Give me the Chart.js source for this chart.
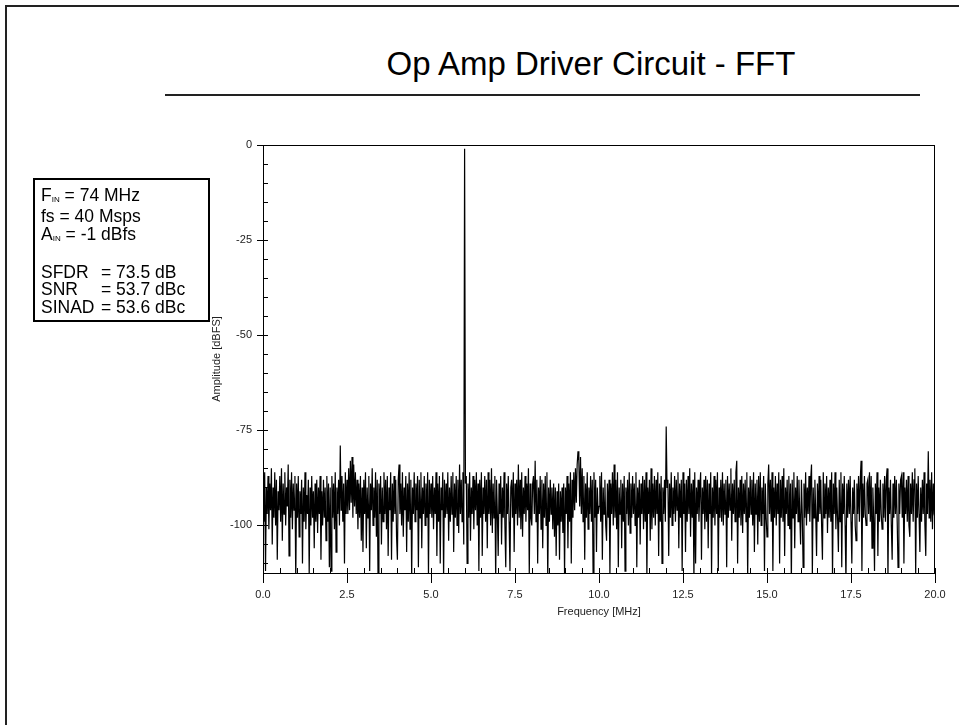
<!DOCTYPE html>
<html>
<head>
<meta charset="utf-8">
<script src="https://cdn.jsdelivr.net/npm/chart.js@4/dist/chart.umd.min.js"></script>
<style>
    body { margin: 0; width: 959px; height: 725px; overflow: hidden; background: #fff; position: relative; font-family: "Liberation Sans", Arial, sans-serif; }
    #frame { position: absolute; left: 5px; top: 5px; width: 1000px; height: 1000px; border: 2px solid #222; }
    #title { position: absolute; left: 291px; width: 600px; top: 44px; text-align: center; font-size: 33px; line-height: 40px; color: #000; }
    #rule { position: absolute; left: 165px; top: 94px; width: 755px; border-top: 2px solid #222; }
    #info { position: absolute; left: 33px; top: 178px; width: 177px; height: 144px; box-sizing: border-box; border: 2px solid #000; padding: 7px 0 0 6px; font-size: 17.5px; line-height: 17.3px; color: #000; will-change: transform; }
    #info .lbl { display: inline-block; width: 60px; }
    #info sub { font-size: 8px; vertical-align: -1px; color: #000; }
    #chart { position: absolute; left: 0; top: 0; }
</style>
</head>
<body>
<div id="frame"></div>
<div id="title">Op Amp Driver Circuit - FFT</div>
<div id="rule"></div>
<div id="info">
    F<sub>IN</sub> = 74 MHz<br>
    fs = 40 Msps<br>
    A<sub>IN</sub> = -1 dBfs<br>
    <br>
    <span class="lbl">SFDR</span>= 73.5 dB<br>
    <span class="lbl">SNR</span>= 53.7 dBc<br>
    <span class="lbl">SINAD</span>= 53.6 dBc
</div>
<canvas id="chart" width="959" height="725"></canvas>
<script>
// FFT bins, 0.025 MHz apart, 0 .. 20 MHz
var binMHz = 0.025;
var xTickLabels = ['0.0', '2.5', '5.0', '7.5', '10.0', '12.5', '15.0', '17.5', '20.0'];
var yTickLabels = ['0', '-25', '-50', '-75', '-100'];

// amplitude in dBFS, one row per MHz
var amplitudeDb = [
    -88,-99,-86,-112,-90,-97,-87,-101,-89,-96,-85,-105,-90,-98,-86,-100,-88,-109,-91,-96,-87,-99,-85,-104,-89,-97,-86,-100,-90,-95,-84,-108,-88,-98,-86,-101,-89,-96,-87,-115,
    -89,-98,-87,-103,-91,-97,-88,-110,-90,-99,-86,-101,-92,-97,-88,-113,-90,-100,-87,-98,-91,-106,-89,-99,-88,-102,-90,-97,-87,-109,-91,-100,-88,-98,-90,-104,-87,-99,-89,-111,
    -90,-112,-87,-98,-89,-101,-86,-107,-90,-97,-88,-100,-79,-96,-87,-99,-89,-110,-86,-97,-88,-97,-85,-96,-83,-94,-82,-98,-84,-95,-86,-97,-88,-101,-89,-98,-87,-104,-90,-107,
    -88,-97,-86,-106,-90,-98,-87,-112,-89,-96,-85,-100,-90,-98,-86,-103,-88,-115,-89,-97,-87,-105,-90,-99,-86,-97,-88,-101,-87,-108,-90,-96,-86,-109,-89,-99,-87,-97,-88,-103,
    -109,-88,-84,-97,-89,-100,-86,-103,-90,-96,-87,-107,-89,-99,-86,-101,-88,-114,-90,-97,-86,-99,-89,-96,-87,-111,-88,-98,-86,-106,-90,-97,-87,-100,-89,-98,-86,-113,-88,-97,
    -89,-98,-87,-101,-90,-97,-86,-108,-89,-99,-87,-110,-90,-96,-86,-114,-88,-98,-89,-97,-86,-104,-90,-99,-87,-97,-86,-107,-89,-98,-87,-100,-88,-102,-84,-97,-88,-99,-86,-105,
    -1,-89,-87,-110,-89,-98,-86,-104,-90,-97,-87,-101,-88,-96,-86,-100,-89,-112,-88,-98,-86,-108,-90,-97,-87,-99,-88,-106,-86,-97,-88,-100,-85,-102,-89,-98,-87,-115,-88,-97,
    -108,-89,-97,-87,-105,-90,-98,-86,-100,-111,-89,-97,-87,-99,-112,-90,-88,-98,-86,-107,-89,-97,-88,-100,-84,-98,-88,-101,-86,-103,-90,-97,-87,-99,-89,-96,-85,-113,-89,-98,
    -100,-89,-87,-97,-83,-99,-88,-110,-90,-97,-87,-101,-88,-106,-89,-98,-87,-100,-86,-115,-90,-99,-88,-97,-90,-101,-89,-103,-90,-108,-91,-100,-89,-109,-91,-99,-90,-102,-89,-113,
    -90,-97,-87,-106,-89,-99,-86,-110,-88,-98,-86,-96,-85,-94,-84,-80.5,-83,-95,-82,-97,-85,-99,-87,-109,-89,-98,-86,-101,-90,-97,-87,-99,-88,-114,-86,-98,-88,-107,-90,-97,
    -95,-87,-99,-86,-109,-90,-97,-88,-100,-104,-89,-98,-88,-113,-89,-97,-86,-100,-84,-98,-88,-101,-86,-111,-90,-97,-88,-106,-89,-99,-87,-112,-90,-97,-88,-100,-86,-102,-89,-98,
    -87,-97,-89,-100,-86,-111,-90,-98,-88,-105,-89,-97,-87,-101,-88,-99,-86,-114,-90,-97,-88,-104,-85,-101,-89,-98,-87,-100,-88,-97,-86,-108,-89,-99,-87,-110,-90,-97,-88,-99,
    -74,-90,-88,-108,-89,-98,-86,-100,-90,-97,-87,-99,-88,-96,-86,-106,-89,-98,-88,-112,-86,-97,-89,-107,-88,-99,-87,-97,-85,-103,-89,-98,-88,-115,-86,-110,-90,-97,-88,-99,
    -91,-86,-109,-90,-97,-88,-101,-87,-99,-88,-106,-89,-97,-86,-113,-90,-98,-87,-100,-88,-97,-86,-112,-90,-98,-88,-99,-86,-100,-89,-97,-88,-111,-87,-98,-89,-96,-85,-104,-89,
    -97,-88,-99,-86,-83,-110,-90,-98,-88,-100,-87,-102,-89,-97,-88,-99,-86,-114,-90,-98,-87,-97,-88,-100,-86,-107,-89,-97,-88,-105,-87,-99,-86,-100,-90,-97,-87,-112,-89,-98,
    -103,-89,-84,-97,-88,-99,-86,-112,-90,-98,-87,-100,-89,-97,-86,-110,-88,-98,-87,-99,-85,-108,-90,-97,-88,-100,-87,-101,-89,-115,-88,-98,-86,-106,-90,-97,-87,-99,-88,-97,
    -105,-88,-97,-111,-89,-98,-86,-100,-90,-97,-87,-99,-88,-84,-113,-90,-98,-88,-97,-108,-89,-99,-87,-97,-88,-100,-109,-86,-98,-89,-97,-87,-102,-90,-98,-88,-99,-86,-114,-89,
    -97,-86,-101,-90,-98,-107,-88,-99,-86,-111,-89,-97,-87,-100,-115,-89,-98,-88,-97,-87,-99,-110,-90,-97,-88,-100,-104,-89,-97,-87,-99,-88,-83,-112,-89,-98,-87,-97,-100,-89,
    -88,-97,-86,-99,-87,-106,-90,-98,-112,-89,-97,-86,-108,-90,-99,-88,-97,-101,-89,-98,-87,-99,-88,-85,-114,-90,-97,-88,-100,-109,-89,-98,-87,-97,-88,-99,-111,-89,-97,-88,
    -87,-98,-86,-110,-90,-97,-88,-99,-87,-100,-103,-89,-97,-86,-99,-88,-85,-113,-89,-98,-87,-97,-107,-90,-99,-88,-97,-86,-100,-108,-89,-97,-80.5,-98,-88,-99,-86,-101,-89,-97,
    -98
];

var points = amplitudeDb.map(function (v, i) { return {x: i * binMHz, y: v}; });
var tickFont = {family: "'Liberation Sans Narrow', 'Liberation Sans', Arial, sans-serif", size: 11};

// plot box + inward minor ticks
var frameTicks = {
    id: 'frameTicks',
    afterDraw: function (chart) {
        var ctx = chart.ctx, a = chart.chartArea;
        var xs = chart.scales.x, ys = chart.scales.y;
        ctx.save();
        ctx.strokeStyle = '#000';
        ctx.lineWidth = 1;
        ctx.beginPath();
        ctx.moveTo(a.left, a.top + 0.5); ctx.lineTo(a.right, a.top + 0.5);
        ctx.moveTo(a.right - 0.5, a.top); ctx.lineTo(a.right - 0.5, a.bottom);
        for (var v = -110; v <= 0; v += 5) {
            var y = Math.round(ys.getPixelForValue(v)) + 0.5;
            ctx.moveTo(a.left, y); ctx.lineTo(a.left + 5, y);
        }
        for (var f = 0; f <= 20; f += 0.5) {
            var x = Math.round(xs.getPixelForValue(f)) + 0.5;
            ctx.moveTo(x, a.bottom); ctx.lineTo(x, a.bottom - 5);
        }
        ctx.stroke();
        ctx.restore();
    }
};

var config = {
    type: 'line',
    data: {
        datasets: [{
            data: points,
            borderColor: '#000',
            borderWidth: 1.2,
            pointRadius: 0,
            fill: false,
            tension: 0
        }]
    },
    options: {
        responsive: false,
        animation: false,
        devicePixelRatio: 1,
        parsing: false,
        layout: {padding: {left: 210, top: 145, right: 24, bottom: 106}},
        plugins: {legend: {display: false}, tooltip: {enabled: false}},
        scales: {
            x: {
                type: 'linear', min: 0, max: 20,
                afterFit: function (s) { s.height = 46; },
                ticks: {
                    stepSize: 2.5, maxRotation: 0, autoSkip: false, padding: 5, color: '#222', font: tickFont,
                    callback: function (v, i) { return xTickLabels[i]; }
                },
                grid: {drawOnChartArea: false, drawTicks: true, tickLength: 10, color: '#000'},
                border: {display: true, color: '#000'},
                title: {display: true, text: 'Frequency [MHz]', color: '#222', font: tickFont, padding: {top: 2, bottom: 0}}
            },
            y: {
                type: 'linear', min: -112.5, max: 0,
                afterFit: function (s) { s.width = 53; },
                afterBuildTicks: function (s) {
                    s.ticks = s.ticks.filter(function (t) { return t.value % 25 === 0; });
                },
                ticks: {
                    stepSize: 25, padding: 5, color: '#222', font: tickFont,
                    callback: function (v) { return yTickLabels[Math.round(-v / 25)]; }
                },
                grid: {drawOnChartArea: false, drawTicks: true, tickLength: 6, color: '#000'},
                border: {display: true, color: '#000'},
                title: {display: true, text: 'Amplitude [dBFS]', color: '#222', font: tickFont, padding: 0}
            }
        }
    },
    plugins: [frameTicks]
};

var ctx = document.getElementById('chart').getContext('2d');
var fftChart = new Chart(ctx, config);
</script>
</body>
</html>
